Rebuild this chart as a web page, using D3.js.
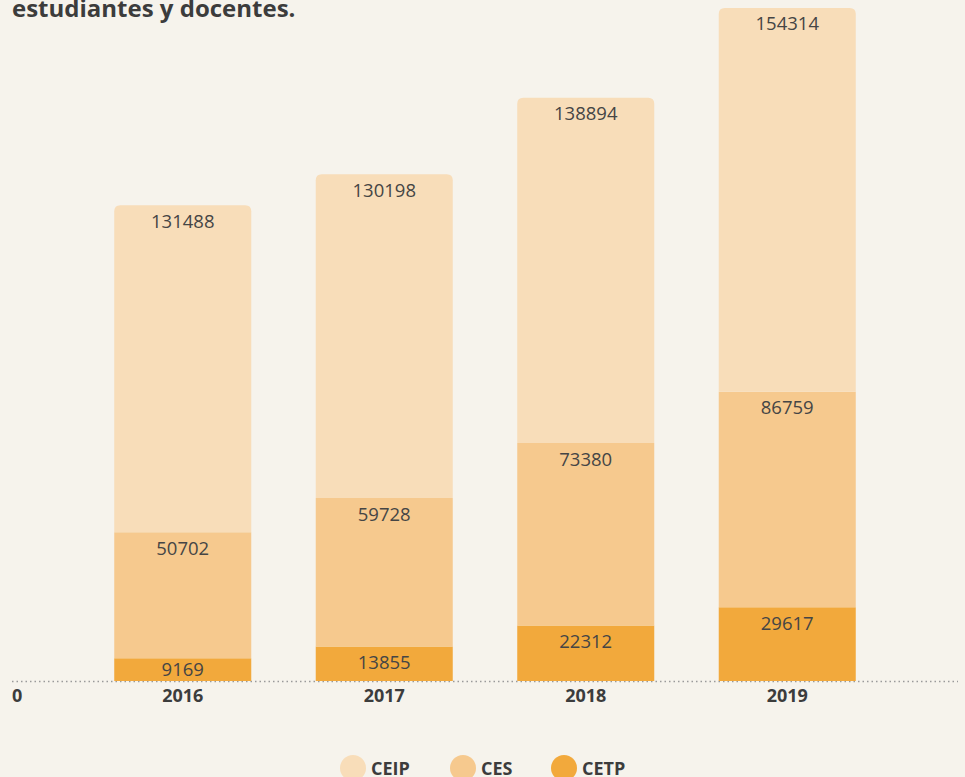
<!DOCTYPE html>
<html>
<head>
<meta charset="utf-8">
<script src="https://cdn.jsdelivr.net/npm/d3@7"></script>
<style>
  html, body { margin: 0; padding: 0; background: #f6f3ec; }
  svg { display: block; font-family: "Open Sans", "Noto Sans", sans-serif; }
</style>
</head>
<body>
<svg id="chart" width="965" height="777"></svg>
<script>
// Matrícula por consejo y año
const years = ["2016", "2017", "2018", "2019"];
const seriesNames = ["CETP", "CES", "CEIP"];
const cetp = [9169, 13855, 22312, 29617];
const ces = [50702, 59728, 73380, 86759];
const ceip = [131488, 130198, 138894, 154314];
const colors = { CEIP: "#f8ddb9", CES: "#f6c98e", CETP: "#f2a93c" };
const legendOrder = ["CEIP", "CES", "CETP"];
const titleLine = "estudiantes y docentes.";

const valuesBySeries = { CETP: cetp, CES: ces, CEIP: ceip };
const rows = years.map((y, i) => {
  const r = { year: y };
  seriesNames.forEach(s => r[s] = valuesBySeries[s][i]);
  return r;
});

const svg = d3.select("#chart");
const baseY = 681;

const x = d3.scaleBand().domain(years).range([82, 888]).paddingInner(0.32).paddingOuter(0.16);
const totals = rows.map(r => seriesNames.reduce((a, s) => a + r[s], 0));
const y = d3.scaleLinear().domain([0, d3.max(totals)]).range([baseY, 8]);

const stack = d3.stack().keys(seriesNames)(rows);

// title (last line)
svg.append("text")
  .attr("x", 12).attr("y", 17)
  .attr("font-size", 24).attr("font-weight", 700).attr("fill", "#3c3c3c")
  .text(titleLine);

// dotted baseline
svg.append("line")
  .attr("x1", 12).attr("x2", 958).attr("y1", baseY + 0.5).attr("y2", baseY + 0.5)
  .attr("stroke", "#9a9a9a").attr("stroke-width", 1.5)
  .attr("stroke-dasharray", "1.5,3");

const r = 6;
function segPath(x0, w, yTop, yBot, rounded) {
  if (!rounded) return `M${x0},${yBot}V${yTop}H${x0 + w}V${yBot}Z`;
  return `M${x0},${yBot}V${yTop + r}Q${x0},${yTop} ${x0 + r},${yTop}H${x0 + w - r}Q${x0 + w},${yTop} ${x0 + w},${yTop + r}V${yBot}Z`;
}

stack.forEach((layer, li) => {
  const g = svg.append("g");
  layer.forEach(d => {
    const yr = d.data.year;
    const x0 = x(yr), w = x.bandwidth();
    const yTop = y(d[1]), yBot = y(d[0]);
    g.append("path")
      .attr("d", segPath(x0, w, yTop, yBot, li === stack.length - 1))
      .attr("fill", colors[layer.key]);
    const mid = (yTop + yBot) / 2;
    const cy = Math.min(yTop + 16, mid);
    g.append("text")
      .attr("x", x0 + w / 2).attr("y", cy)
      .attr("dy", "0.35em")
      .attr("text-anchor", "middle")
      .attr("font-size", 18.5).attr("fill", "#454545")
      .text(d[1] - d[0]);
  });
});

// x axis labels
const axisG = svg.append("g");
years.forEach(yr => {
  axisG.append("text")
    .attr("x", x(yr) + x.bandwidth() / 2).attr("y", 702)
    .attr("text-anchor", "middle")
    .attr("font-size", 18).attr("font-weight", 700).attr("fill", "#3c3c3c")
    .text(yr);
});
axisG.append("text")
  .attr("x", 12).attr("y", 702)
  .attr("font-size", 18).attr("font-weight", 700).attr("fill", "#3c3c3c")
  .text(y.ticks(1)[0]);

// legend
const legendX = [353, 463, 564];
const lg = svg.append("g");
legendOrder.forEach((k, i) => {
  lg.append("circle").attr("cx", legendX[i]).attr("cy", 768).attr("r", 13).attr("fill", colors[k]);
  lg.append("text")
    .attr("x", legendX[i] + 18).attr("y", 775)
    .attr("font-size", 18).attr("font-weight", 700).attr("fill", "#3c3c3c")
    .text(k);
});
</script>
</body>
</html>
